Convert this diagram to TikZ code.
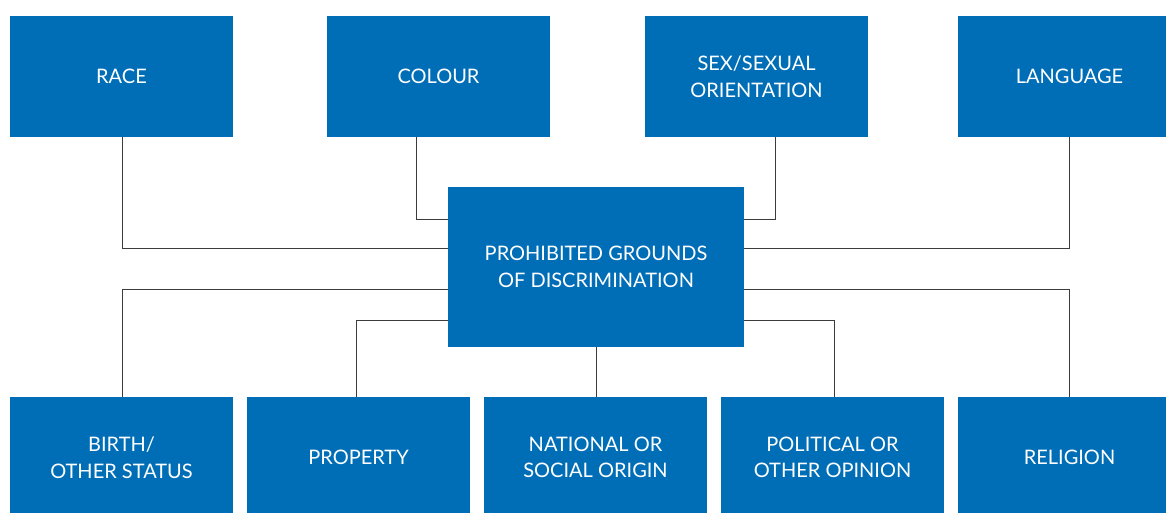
\documentclass[tikz,border=0pt]{standalone}
\usepackage{fontspec}
\setmainfont{Lato}
\definecolor{boxblue}{RGB}{0,110,183}
\definecolor{linegray}{RGB}{60,60,60}
\begin{document}
\begin{tikzpicture}[x=1pt,y=-1pt,
  gbox/.style={fill=boxblue, draw=none, minimum width=223pt, minimum height=121pt,
    text=white, align=center, inner sep=0pt,
    font=\fontsize{20}{26.5}\selectfont},
  cbox/.style={gbox, minimum width=296pt, minimum height=160pt},
  conn/.style={draw=linegray, line width=1pt}]
\useasboundingbox (0,0) rectangle (1166,512);
\clip (0,0) rectangle (1166,512);
\fill[white] (0,0) rectangle (1166,512);
% top row
\node[gbox] (race) at (121.5,76.5) {RACE};
\node[gbox] (colour) at (438.5,76.5) {COLOUR};
\node[gbox] (sex) at (756.5,76.5) {SEX/SEXUAL\\ORIENTATION};
\node[gbox] (lang) at (1069.5,76.5) {LANGUAGE};
% centre
\node[cbox] (ctr) at (596,267) {PROHIBITED GROUNDS\\OF DISCRIMINATION};
% bottom row
\node[gbox] (birth) at (121.5,457.5) {BIRTH/\\OTHER STATUS};
\node[gbox] (prop) at (358.5,457.5) {PROPERTY};
\node[gbox] (natl) at (595.5,457.5) {NATIONAL OR\\SOCIAL ORIGIN};
\node[gbox] (pol) at (832.5,457.5) {POLITICAL OR\\OTHER OPINION};
\node[gbox] (rel) at (1069.5,457.5) {RELIGION};
% connectors
\draw[conn] ([xshift=0.5pt]race.south) |- ([yshift=19pt]ctr.west);
\draw[conn] ([xshift=-22.5pt]colour.south) |- ([yshift=48pt]ctr.west);
\draw[conn] ([xshift=18.5pt]sex.south) |- ([yshift=48pt]ctr.east);
\draw[conn] ([xshift=-0.5pt]lang.south) |- ([yshift=19pt]ctr.east);
\draw[conn] ([xshift=0.5pt]birth.north) |- ([yshift=-22pt]ctr.west);
\draw[conn] ([xshift=-2.5pt]prop.north) |- ([yshift=-53pt]ctr.west);
\draw[conn] (ctr.south) -- (ctr.south |- natl.north);
\draw[conn] ([xshift=1.5pt]pol.north) |- ([yshift=-53pt]ctr.east);
\draw[conn] ([xshift=-0.5pt]rel.north) |- ([yshift=-22pt]ctr.east);
\end{tikzpicture}
\end{document}
